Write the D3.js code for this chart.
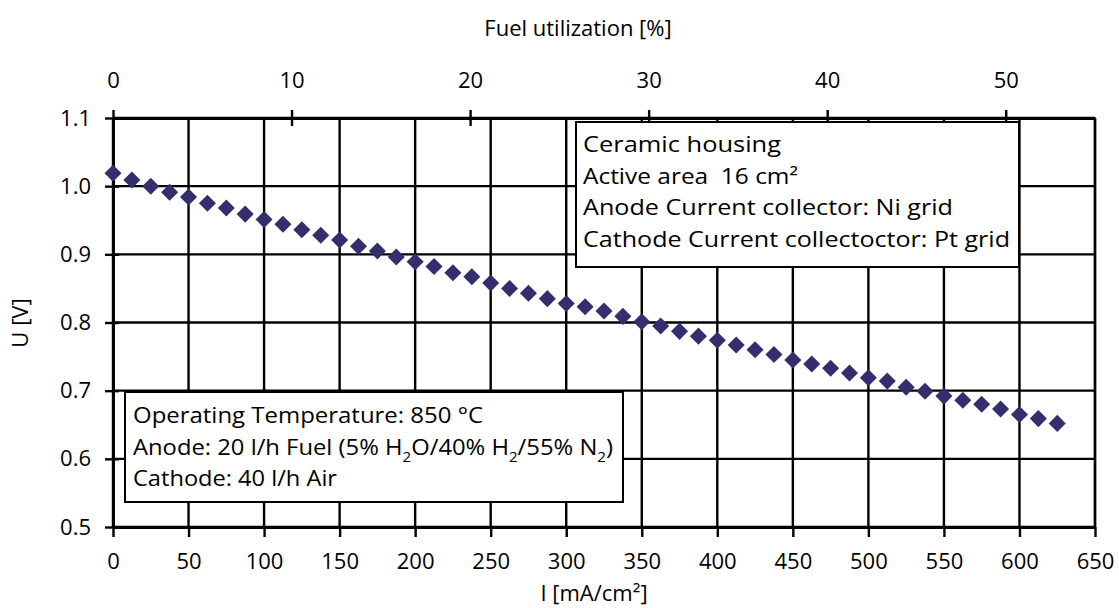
<!DOCTYPE html>
<html>
<head>
<meta charset="utf-8">
<script src="https://cdn.jsdelivr.net/npm/d3@7"></script>
<style>
  html, body { margin: 0; padding: 0; background: #fff; }
  svg { display: block; font-family: "Open Sans", "Noto Sans", sans-serif; }
  text { fill: #000; }
</style>
</head>
<body>
<svg id="chart" width="1119" height="608"></svg>
<script>
// ---- data ----
const currentDensity = [0, 12.5, 25, 37.5, 50, 62.5, 75, 87.5, 100, 112.5, 125, 137.5, 150, 162.5, 175, 187.5,
  200, 212.5, 225, 237.5, 250, 262.5, 275, 287.5, 300, 312.5, 325, 337.5, 350, 362.5, 375, 387.5,
  400, 412.5, 425, 437.5, 450, 462.5, 475, 487.5, 500, 512.5, 525, 537.5, 550, 562.5, 575, 587.5,
  600, 612.5, 625];
const voltage = [1.019, 1.009, 1.000, 0.991, 0.984, 0.975, 0.968, 0.959, 0.951, 0.944, 0.936, 0.928, 0.921, 0.912, 0.905, 0.896,
  0.889, 0.882, 0.873, 0.867, 0.858, 0.850, 0.843, 0.835, 0.828, 0.823, 0.817, 0.809, 0.801, 0.795, 0.787, 0.780,
  0.774, 0.767, 0.760, 0.753, 0.745, 0.739, 0.733, 0.726, 0.719, 0.714, 0.705, 0.699, 0.692, 0.686, 0.680, 0.673,
  0.665, 0.659, 0.652];
const xTicks = [0, 50, 100, 150, 200, 250, 300, 350, 400, 450, 500, 550, 600, 650];
const yTicks = [0.5, 0.6, 0.7, 0.8, 0.9, 1.0, 1.1];
const topTicks = [0, 10, 20, 30, 40, 50];
const xDomain = [0, 650];
const yDomain = [0.5, 1.1];
const topDomain = [0, 55];
const xLabel = "I [mA/cm²]";
const yLabel = "U [V]";
const topLabel = "Fuel utilization [%]";
const box1Lines = ["Ceramic housing", "Active area  16 cm²", "Anode Current collector: Ni grid", "Cathode Current collectoctor: Pt grid"];

// ---- layout ----
const L = 113, R = 1095, T = 118, B = 527;
const svg = d3.select("#chart");
const FS = 22;
const x = d3.scaleLinear().domain(xDomain).range([L, R]);
const y = d3.scaleLinear().domain(yDomain).range([B, T]);
const xTop = d3.scaleLinear().domain(topDomain).range([L, R]);

// grid
const grid = svg.append("g").attr("stroke", "#000").attr("stroke-width", 2.4);
grid.selectAll(".vg").data(xTicks).join("line")
  .attr("x1", d => x(d)).attr("x2", d => x(d)).attr("y1", T).attr("y2", B);
grid.selectAll(".hg").data(yTicks).join("line")
  .attr("x1", L).attr("x2", R).attr("y1", d => y(d)).attr("y2", d => y(d));

function styleAxis(g) {
  g.attr("font-family", null).attr("font-size", null);
  g.select(".domain").attr("stroke-width", 3);
  g.selectAll(".tick line").attr("stroke-width", 2.4);
  g.selectAll(".tick text").attr("font-size", FS);
}

// bottom axis
const gx = svg.append("g").attr("transform", `translate(0,${B})`)
  .call(d3.axisBottom(x).tickValues(xTicks).tickSize(10).tickSizeOuter(0).tickPadding(16).tickFormat(d3.format("d")));
styleAxis(gx);

// left axis
const gy = svg.append("g").attr("transform", `translate(${L},0)`)
  .call(d3.axisLeft(y).tickValues(yTicks).tickSize(8).tickSizeOuter(0).tickPadding(14).tickFormat(d3.format(".1f")));
styleAxis(gy);
gy.selectAll(".tick line").attr("x2", 6).attr("x1", -8);

// top axis
const gt = svg.append("g").attr("transform", `translate(0,${T})`)
  .call(d3.axisTop(xTop).tickValues(topTicks).tickSize(8).tickSizeOuter(0).tickPadding(22).tickFormat(d3.format("d")));
styleAxis(gt);
gt.selectAll(".tick line").attr("y1", 8).attr("y2", -8);

// right frame line
svg.append("line").attr("x1", R).attr("x2", R).attr("y1", T).attr("y2", B)
  .attr("stroke", "#000").attr("stroke-width", 2.4);

// data markers
const diamond = d3.symbol().type(d3.symbolDiamond2).size(185);
svg.append("g").selectAll("path").data(currentDensity.map((c, i) => [c, voltage[i]])).join("path")
  .attr("d", diamond)
  .attr("transform", d => `translate(${x(d[0])},${y(d[1])})`)
  .attr("fill", "#332f6e");

// axis titles
svg.append("text").attr("x", 578).attr("y", 36).attr("text-anchor", "middle").attr("font-size", FS).text(topLabel);
svg.append("text").attr("x", 594).attr("y", 601).attr("text-anchor", "middle").attr("font-size", FS).text(xLabel);
svg.append("text").attr("transform", "translate(28,323) rotate(-90)").attr("text-anchor", "middle").attr("font-size", FS).text(yLabel);

// box 1
svg.append("rect").attr("x", 576).attr("y", 122).attr("width", 443).attr("height", 145)
  .attr("fill", "#fff").attr("stroke", "#000").attr("stroke-width", 2);
const b1w = [198, 215, 370, 427];
box1Lines.forEach((s, i) => {
  svg.append("text").attr("x", 583).attr("y", 152 + i * 31.6).attr("font-size", FS)
    .attr("xml:space", "preserve").attr("textLength", b1w[i]).attr("lengthAdjust", "spacingAndGlyphs").text(s);
});

// box 2
svg.append("rect").attr("x", 125).attr("y", 392).attr("width", 498).attr("height", 110)
  .attr("fill", "#fff").attr("stroke", "#000").attr("stroke-width", 2);
svg.append("text").attr("x", 133).attr("y", 423).attr("font-size", FS)
  .attr("textLength", 350).attr("lengthAdjust", "spacingAndGlyphs").text("Operating Temperature: 850 °C");
const t2 = svg.append("text").attr("x", 133).attr("y", 455).attr("font-size", FS)
  .attr("textLength", 480).attr("lengthAdjust", "spacingAndGlyphs");
const parts = [["Anode: 20 l/h Fuel (5% H", 0], ["2", 1], ["O/40% H", 0], ["2", 1], ["/55% N", 0], ["2", 1], [")", 0]];
let prevSub = false;
parts.forEach(([s, sub]) => {
  const ts = t2.append("tspan").text(s);
  if (sub) ts.attr("font-size", 14).attr("dy", 7);
  else if (prevSub) ts.attr("dy", -7);
  prevSub = !!sub;
});
svg.append("text").attr("x", 133).attr("y", 486).attr("font-size", FS)
  .attr("textLength", 204).attr("lengthAdjust", "spacingAndGlyphs").text("Cathode: 40 l/h Air");
</script>
</body>
</html>
